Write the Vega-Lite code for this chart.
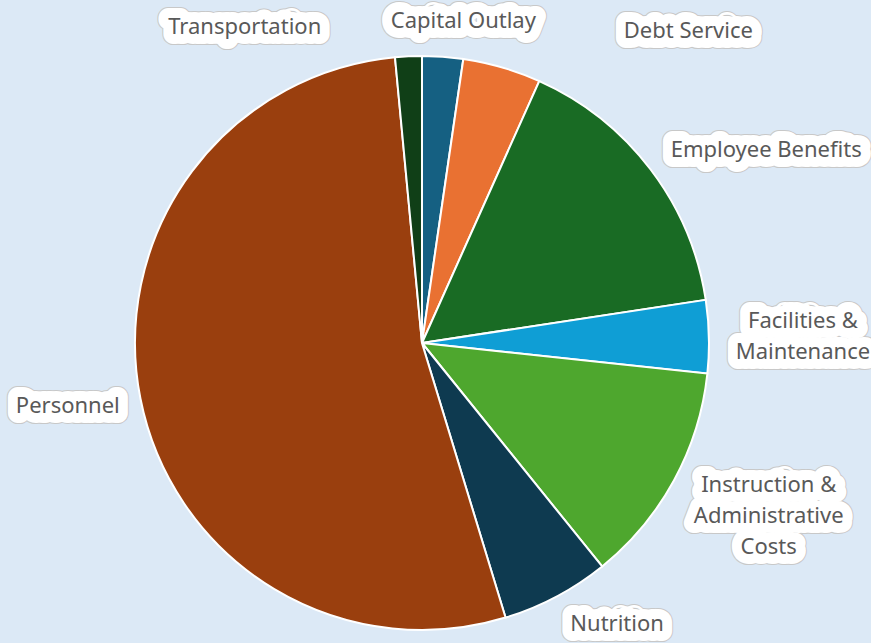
{
  "$schema": "https://vega.github.io/schema/vega-lite/v6.json",
  "autosize": {"type": "none"},
  "width": 844,
  "height": 600,
  "padding": {"left": 0, "top": 43, "right": 27, "bottom": 0},
  "background": "#dce9f6",
  "config": {
    "view": {"stroke": null},
    "text": {"font": "Noto Sans", "fontSize": 22, "lineHeight": 31, "baseline": "middle", "lineBreak": "\n", "strokeJoin": "round"}
  },
  "data": {
    "values": [
      {"category": "Capital Outlay", "label": "Capital Outlay", "value": 2.3},
      {"category": "Debt Service", "label": "Debt Service", "value": 4.4},
      {"category": "Employee Benefits", "label": "Employee Benefits", "value": 15.9},
      {"category": "Facilities & Maintenance", "label": "Facilities &\nMaintenance", "value": 4.1},
      {"category": "Instruction & Administrative Costs", "label": "Instruction &\nAdministrative\nCosts", "value": 12.5},
      {"category": "Nutrition", "label": "Nutrition", "value": 6.1},
      {"category": "Personnel", "label": "Personnel", "value": 53.2},
      {"category": "Transportation", "label": "Transportation", "value": 1.5}
    ]
  },
  "encoding": {
    "theta": {"field": "value", "type": "quantitative", "stack": true},
    "detail": {"field": "category"}
  },
  "layer": [
    {
      "mark": {"type": "arc", "outerRadius": 287, "stroke": "white", "strokeWidth": 2},
      "encoding": {
        "color": {
          "field": "category",
          "type": "nominal",
          "legend": null,
          "scale": {
            "domain": ["Capital Outlay", "Debt Service", "Employee Benefits", "Facilities & Maintenance", "Instruction & Administrative Costs", "Nutrition", "Personnel", "Transportation"],
            "range": ["#156082", "#e97132", "#196b24", "#0f9ed5", "#4ea72e", "#0e3a50", "#9a3f0e", "#103f17"]
          }
        }
      }
    },

    {"mark": {"type": "text", "radius": 324, "dx": -162, "dy": 8, "fill": "#c8c8c8", "stroke": "#c8c8c8", "strokeWidth": 22},
     "encoding": {"text": {"condition": {"test": "datum.category === 'Transportation'", "field": "label"}, "value": ""}}},
    {"mark": {"type": "text", "radius": 324, "dx": -162, "dy": 8, "fill": "white", "stroke": "white", "strokeWidth": 20},
     "encoding": {"text": {"condition": {"test": "datum.category === 'Transportation'", "field": "label"}, "value": ""}}},
    {"mark": {"type": "text", "radius": 324, "dx": -162, "dy": 8, "fill": "#595959"},
     "encoding": {"text": {"condition": {"test": "datum.category === 'Transportation'", "field": "label"}, "value": ""}}},

    {"mark": {"type": "text", "radius": 324, "dx": 18, "dy": 1, "fill": "#c8c8c8", "stroke": "#c8c8c8", "strokeWidth": 22},
     "encoding": {"text": {"condition": {"test": "datum.category === 'Capital Outlay'", "field": "label"}, "value": ""}}},
    {"mark": {"type": "text", "radius": 324, "dx": 18, "dy": 1, "fill": "white", "stroke": "white", "strokeWidth": 20},
     "encoding": {"text": {"condition": {"test": "datum.category === 'Capital Outlay'", "field": "label"}, "value": ""}}},
    {"mark": {"type": "text", "radius": 324, "dx": 18, "dy": 1, "fill": "#595959"},
     "encoding": {"text": {"condition": {"test": "datum.category === 'Capital Outlay'", "field": "label"}, "value": ""}}},

    {"mark": {"type": "text", "radius": 374, "dx": 162, "dy": 47, "fill": "#c8c8c8", "stroke": "#c8c8c8", "strokeWidth": 22},
     "encoding": {"text": {"condition": {"test": "datum.category === 'Debt Service'", "field": "label"}, "value": ""}}},
    {"mark": {"type": "text", "radius": 374, "dx": 162, "dy": 47, "fill": "white", "stroke": "white", "strokeWidth": 20},
     "encoding": {"text": {"condition": {"test": "datum.category === 'Debt Service'", "field": "label"}, "value": ""}}},
    {"mark": {"type": "text", "radius": 374, "dx": 162, "dy": 47, "fill": "#595959"},
     "encoding": {"text": {"condition": {"test": "datum.category === 'Debt Service'", "field": "label"}, "value": ""}}},

    {"mark": {"type": "text", "radius": 391, "dx": 33, "dy": 44, "fill": "#c8c8c8", "stroke": "#c8c8c8", "strokeWidth": 22},
     "encoding": {"text": {"condition": {"test": "datum.category === 'Employee Benefits'", "field": "label"}, "value": ""}}},
    {"mark": {"type": "text", "radius": 391, "dx": 33, "dy": 44, "fill": "white", "stroke": "white", "strokeWidth": 20},
     "encoding": {"text": {"condition": {"test": "datum.category === 'Employee Benefits'", "field": "label"}, "value": ""}}},
    {"mark": {"type": "text", "radius": 391, "dx": 33, "dy": 44, "fill": "#595959"},
     "encoding": {"text": {"condition": {"test": "datum.category === 'Employee Benefits'", "field": "label"}, "value": ""}}},

    {"mark": {"type": "text", "radius": 381, "dx": 0, "dy": -14, "fill": "#c8c8c8", "stroke": "#c8c8c8", "strokeWidth": 22},
     "encoding": {"text": {"condition": {"test": "datum.category === 'Facilities & Maintenance'", "field": "label"}, "value": ""}}},
    {"mark": {"type": "text", "radius": 381, "dx": 0, "dy": -14, "fill": "white", "stroke": "white", "strokeWidth": 20},
     "encoding": {"text": {"condition": {"test": "datum.category === 'Facilities & Maintenance'", "field": "label"}, "value": ""}}},
    {"mark": {"type": "text", "radius": 381, "dx": 0, "dy": -14, "fill": "#595959"},
     "encoding": {"text": {"condition": {"test": "datum.category === 'Facilities & Maintenance'", "field": "label"}, "value": ""}}},

    {"mark": {"type": "text", "radius": 387, "dx": 7, "dy": -43, "fill": "#c8c8c8", "stroke": "#c8c8c8", "strokeWidth": 22},
     "encoding": {"text": {"condition": {"test": "datum.category === 'Instruction & Administrative Costs'", "field": "label"}, "value": ""}}},
    {"mark": {"type": "text", "radius": 387, "dx": 7, "dy": -43, "fill": "white", "stroke": "white", "strokeWidth": 20},
     "encoding": {"text": {"condition": {"test": "datum.category === 'Instruction & Administrative Costs'", "field": "label"}, "value": ""}}},
    {"mark": {"type": "text", "radius": 387, "dx": 7, "dy": -43, "fill": "#595959"},
     "encoding": {"text": {"condition": {"test": "datum.category === 'Instruction & Administrative Costs'", "field": "label"}, "value": ""}}},

    {"mark": {"type": "text", "radius": 340, "dx": 36, "dy": -19, "fill": "#c8c8c8", "stroke": "#c8c8c8", "strokeWidth": 22},
     "encoding": {"text": {"condition": {"test": "datum.category === 'Nutrition'", "field": "label"}, "value": ""}}},
    {"mark": {"type": "text", "radius": 340, "dx": 36, "dy": -19, "fill": "white", "stroke": "white", "strokeWidth": 20},
     "encoding": {"text": {"condition": {"test": "datum.category === 'Nutrition'", "field": "label"}, "value": ""}}},
    {"mark": {"type": "text", "radius": 340, "dx": 36, "dy": -19, "fill": "#595959"},
     "encoding": {"text": {"condition": {"test": "datum.category === 'Nutrition'", "field": "label"}, "value": ""}}},

    {"mark": {"type": "text", "radius": 360, "dx": -1, "dy": -7, "fill": "#c8c8c8", "stroke": "#c8c8c8", "strokeWidth": 22},
     "encoding": {"text": {"condition": {"test": "datum.category === 'Personnel'", "field": "label"}, "value": ""}}},
    {"mark": {"type": "text", "radius": 360, "dx": -1, "dy": -7, "fill": "white", "stroke": "white", "strokeWidth": 20},
     "encoding": {"text": {"condition": {"test": "datum.category === 'Personnel'", "field": "label"}, "value": ""}}},
    {"mark": {"type": "text", "radius": 360, "dx": -1, "dy": -7, "fill": "#595959"},
     "encoding": {"text": {"condition": {"test": "datum.category === 'Personnel'", "field": "label"}, "value": ""}}}
  ]
}
